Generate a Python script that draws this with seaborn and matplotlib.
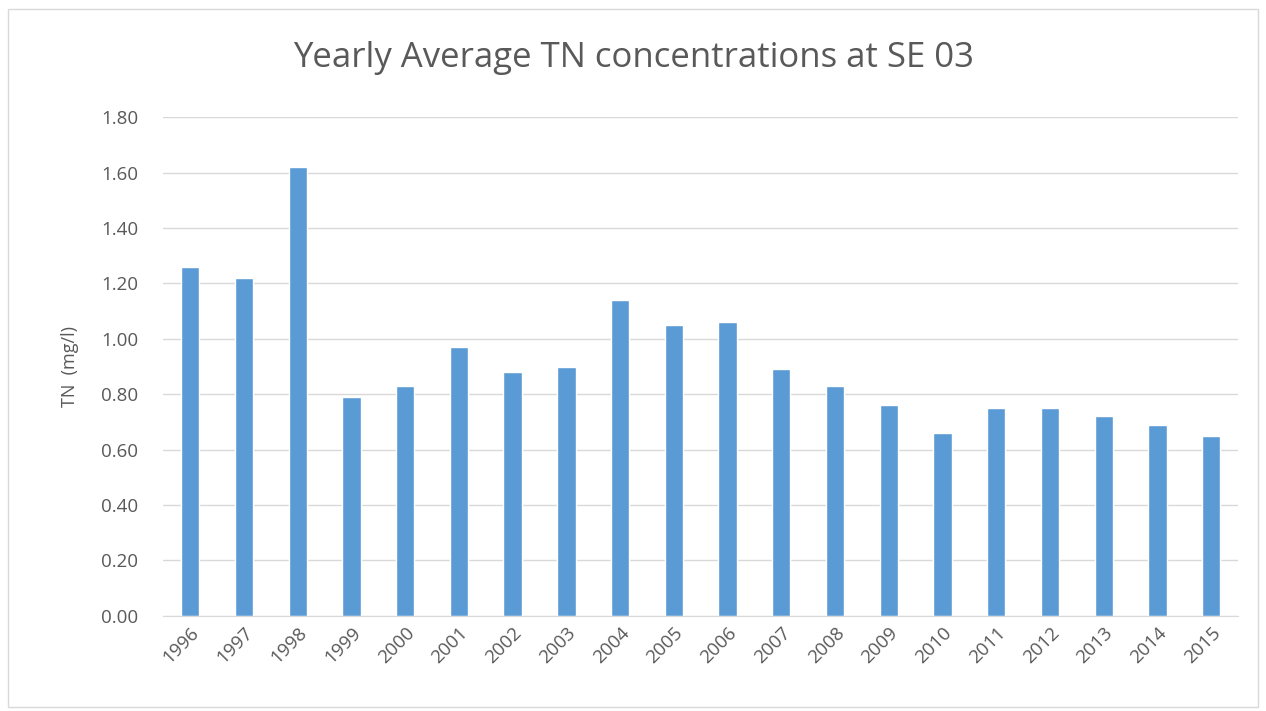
import matplotlib
matplotlib.use("Agg")
import matplotlib.pyplot as plt
import seaborn as sns
import pandas as pd

years = ["1996", "1997", "1998", "1999", "2000", "2001", "2002", "2003", "2004", "2005",
         "2006", "2007", "2008", "2009", "2010", "2011", "2012", "2013", "2014", "2015"]
tn = [1.26, 1.22, 1.62, 0.79, 0.83, 0.97, 0.88, 0.90, 1.14, 1.05,
      1.06, 0.89, 0.83, 0.76, 0.66, 0.75, 0.75, 0.72, 0.69, 0.65]
yticks = [0.0, 0.2, 0.4, 0.6, 0.8, 1.0, 1.2, 1.4, 1.6, 1.8]

df = pd.DataFrame({"year": years, "tn": tn})

sns.set_style("white")
plt.rcParams["font.family"] = ["Open Sans", "DejaVu Sans"]

fig = plt.figure(figsize=(12.66, 7.11), dpi=100)
ax = fig.add_axes([0.129, 0.134, 0.849, 0.701])

sns.barplot(data=df, x="year", y="tn", color="#5B9BD5", saturation=1,
            width=0.34, ax=ax)

ax.set_ylim(0, 1.8)
ax.set_yticks(yticks)
ax.set_yticklabels([f"{v:.2f}" for v in yticks])
ax.set_xlim(-0.5, len(years) - 0.5)
ax.yaxis.grid(True, color="#D9D9D9", linewidth=1)
ax.set_axisbelow(True)
for s in ["top", "right", "left"]:
    ax.spines[s].set_visible(False)
ax.spines["bottom"].set_color("#D9D9D9")
ax.tick_params(axis="both", length=0, colors="#595959", labelsize=13.5)
ax.tick_params(axis="y", pad=18)
ax.tick_params(axis="x", pad=6)
plt.setp(ax.get_xticklabels(), rotation=45, ha="right", rotation_mode="anchor")
ax.set_xlabel("")
ax.set_ylabel("TN  (mg/l)", color="#595959", fontsize=13, labelpad=16)
fig.text(0.5, 0.918, "Yearly Average TN concentrations at SE 03", ha="center",
         va="center", fontsize=25, color="#595959")

# chart frame
fig.patches.append(plt.Rectangle((0.006, 0.006), 0.988, 0.982, transform=fig.transFigure,
                                 fill=False, edgecolor="#D9D9D9", linewidth=1))

fig.savefig("out.png", dpi=100)
